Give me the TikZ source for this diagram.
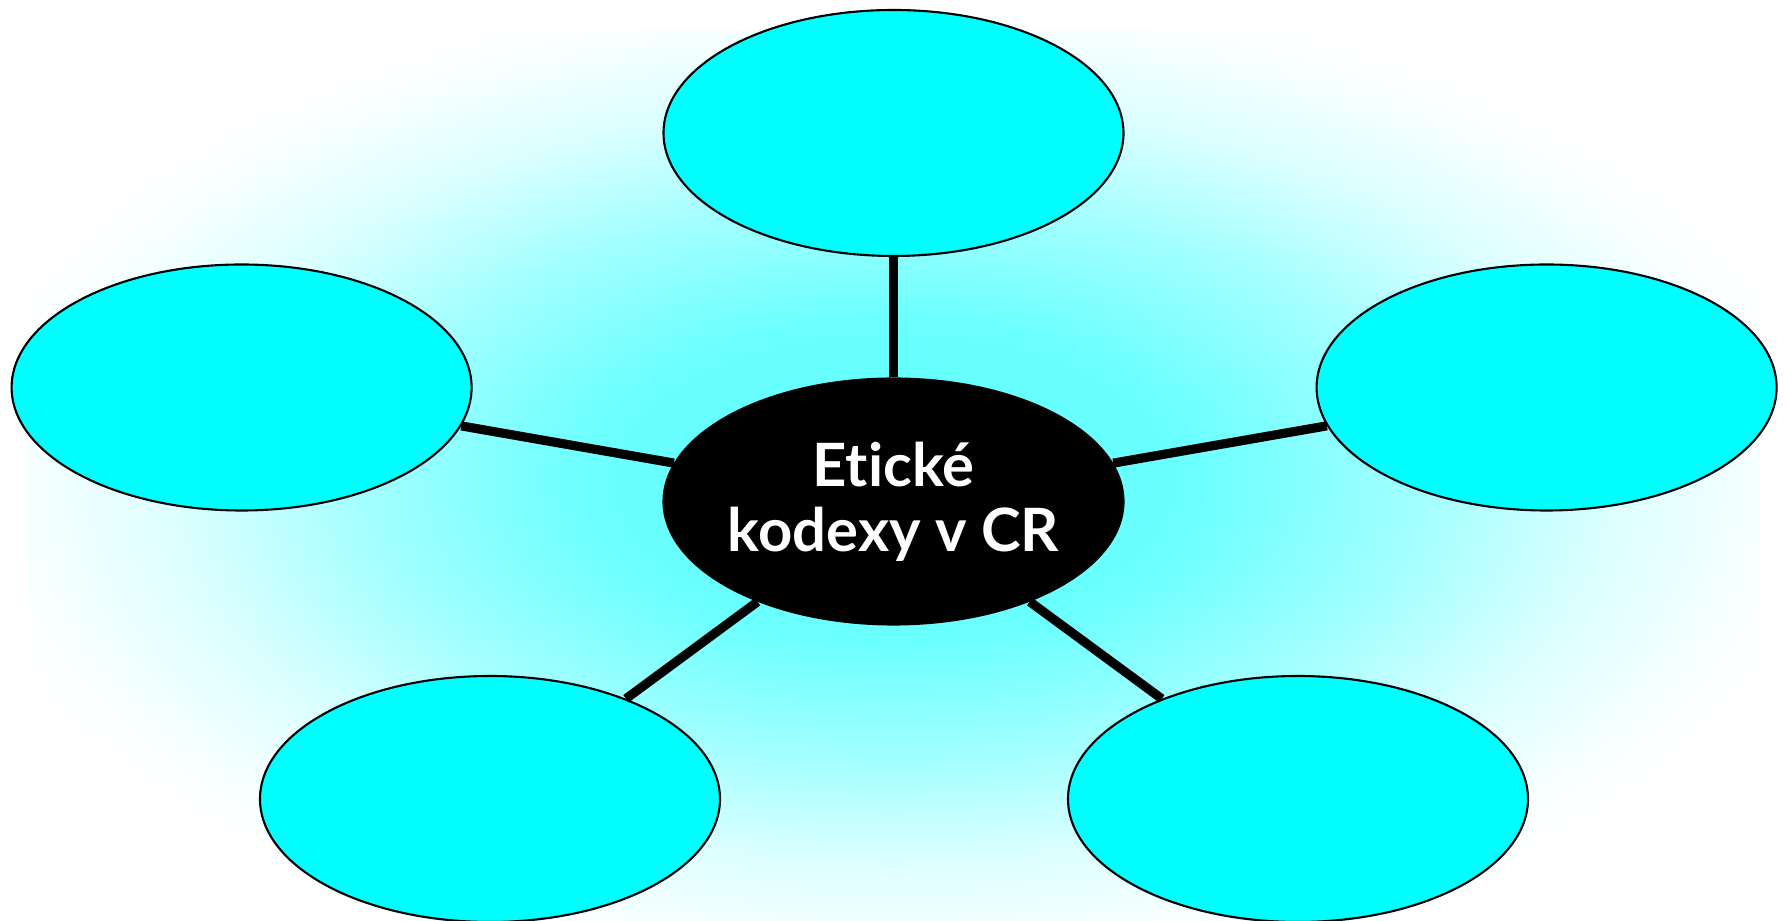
\documentclass[tikz,border=0pt]{standalone}
\usepackage{fontspec}
\setmainfont{Lato}[Ligatures=NoCommon]
\usepackage{tikz}
\usetikzlibrary{shapes.geometric}

\definecolor{aqua}{RGB}{0,255,255}

% soft cyan glow behind the map
\pgfdeclareradialshading{glow}{\pgfpoint{0bp}{0bp}}{%
  color(0bp)=(aqua!62); color(8bp)=(aqua!58); color(14bp)=(aqua!36);
  color(19bp)=(aqua!14); color(23bp)=(aqua!3); color(25bp)=(white); color(50bp)=(white)}

\begin{document}
\begin{tikzpicture}[
    leaf/.style={ellipse, draw=black, line width=0.6pt, fill=aqua,
                 minimum width=4.6cm, minimum height=2.46cm, inner sep=0pt},
    hub/.style={leaf, fill=black},
    hubtext/.style={text=white, align=center, inner sep=0pt,
                font=\fontsize{17}{18.5}\selectfont\bfseries},
    spoke/.style={line width=2.6pt, black}]

  % === Page and background ===
  \useasboundingbox (0,0) rectangle (17.87,9.21);
  \fill[white] (0,0) rectangle (17.87,9.21);
  \begin{scope}
    \clip (0.27,0) rectangle (17.6,8.9);
    \shade[shading=glow] (-0.5,-0.6) rectangle (18.37,9.4);
  \end{scope}

  % === Nodes ===
  \node[hub]  (hub)   at (8.935,4.195) {};
  \node[hubtext] (hublabel) at (hub) {Etické\\kodexy v CR};
  \node[leaf] (top)   at (8.935,7.88)  {};
  \node[leaf] (left)  at (2.416,5.335) {};
  \node[leaf] (right) at (15.466,5.335) {};
  \node[leaf] (botl)  at (4.90,1.22)   {};
  \node[leaf] (botr)  at (12.98,1.22)  {};

  % === Spokes ===
  \foreach \n in {top, left, right, botl, botr} {
    \draw[spoke] (hub) -- (\n);
  }

\end{tikzpicture}
\end{document}
